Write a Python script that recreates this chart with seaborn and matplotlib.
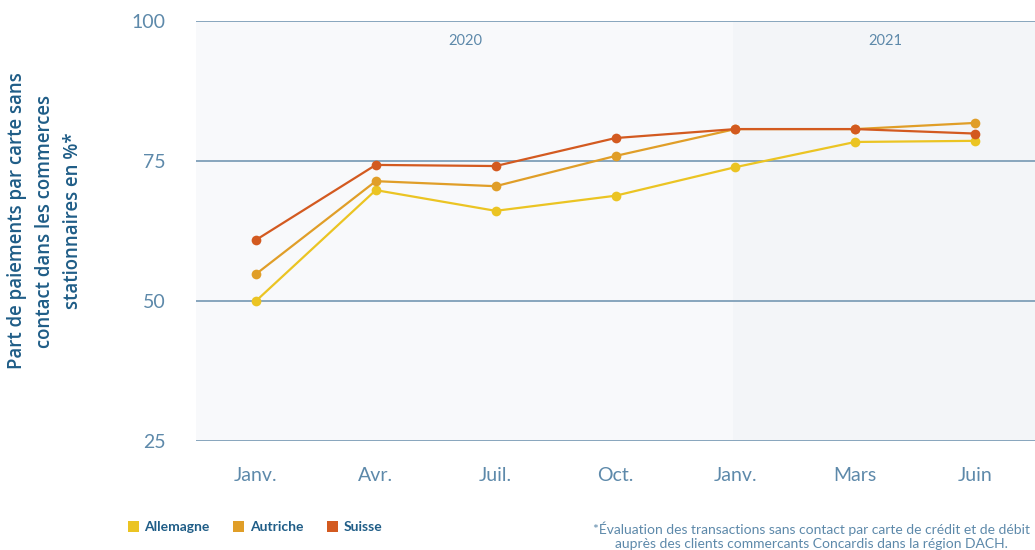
import pandas as pd
import matplotlib.pyplot as plt
import seaborn as sns
from matplotlib.patches import Patch

months = ["Janv.", "Avr.", "Juil.", "Oct.", "Janv.", "Mars", "Juin"]
allemagne = [50.0, 69.8, 66.1, 68.8, 73.9, 78.4, 78.6]
autriche = [54.8, 71.4, 70.5, 75.9, 80.7, 80.7, 81.8]
suisse = [60.9, 74.3, 74.1, 79.1, 80.7, 80.7, 79.9]
countries = ["Allemagne", "Autriche", "Suisse"]
colors = ["#ebc423", "#e09e28", "#d35a20"]
years = ["2020", "2021"]

blue_light = "#5d89aa"
blue_dark = "#1f5d87"

sns.set_style("white")
plt.rcParams["font.family"] = ["Lato", "DejaVu Sans"]

rows = []
for name, vals in zip(countries, [allemagne, autriche, suisse]):
    for i, v in enumerate(vals):
        rows.append({"pos": i, "value": v, "pays": name})
df = pd.DataFrame(rows)

fig = plt.figure(figsize=(10.35, 5.5), dpi=100)
ax = fig.add_axes([196 / 1035, 109 / 550, 839 / 1035, 420 / 550])

# background shading for the two years
ax.axvspan(-0.5, 4 - 0.02, color="#f8f9fb", zorder=0, lw=0)
ax.axvspan(4 - 0.02, 6.5, color="#f3f5f8", zorder=0, lw=0)

for y in [25, 50, 75, 100]:
    ax.axhline(y, color="#7f9fb8", lw=1.3, zorder=1)

sns.lineplot(data=df, x="pos", y="value", hue="pays", palette=colors,
             marker="o", markersize=7, markeredgewidth=0, linewidth=1.6,
             legend=False, ax=ax, zorder=3)

ax.set_xlim(-0.5, 6.5)
ax.set_ylim(25, 100)
ax.set_xticks(range(len(months)))
ax.set_xticklabels(months)
ax.set_yticks([25, 50, 75, 100])
ax.tick_params(axis="both", length=0, labelsize=14, labelcolor=blue_light)
ax.tick_params(axis="x", pad=19)
ax.tick_params(axis="y", pad=22)
ax.set_xlabel("")
ax.set_ylabel("")
for s in ax.spines.values():
    s.set_visible(False)

ax.text(1.75, 96.4, years[0], ha="center", va="center", fontsize=10.5,
        color=blue_light)
ax.text(5.25, 96.4, years[1], ha="center", va="center", fontsize=10.5,
        color=blue_light)

fig.text(45 / 1035, 1 - 221 / 550,
         "Part de paiements par carte sans\ncontact dans les commerces\nstationnaires en %*",
         rotation=90, ha="center", va="center", multialignment="center",
         fontsize=13.4, fontweight="semibold", color=blue_dark, family="Open Sans",
         linespacing=1.5)

handles = [Patch(facecolor=c, edgecolor="none") for c in colors]
leg = fig.legend(handles, countries, loc="center left",
                 bbox_to_anchor=(115 / 1035, 1 - 527 / 550), ncol=3,
                 frameon=False, handlelength=0.8, handleheight=0.8,
                 handletextpad=0.4, columnspacing=1.7,
                 prop={"size": 10, "weight": "bold"})
for t in leg.get_texts():
    t.set_color(blue_dark)

fig.text(1030 / 1035, 1 - 536 / 550,
         "*Évaluation des transactions sans contact par carte de crédit et de débit\n"
         "auprès des clients commercants Concardis dans la région DACH.",
         ha="right", va="center", multialignment="center", fontsize=10,
         color=blue_light, linespacing=1.2)

fig.savefig("out.png", dpi=100)
